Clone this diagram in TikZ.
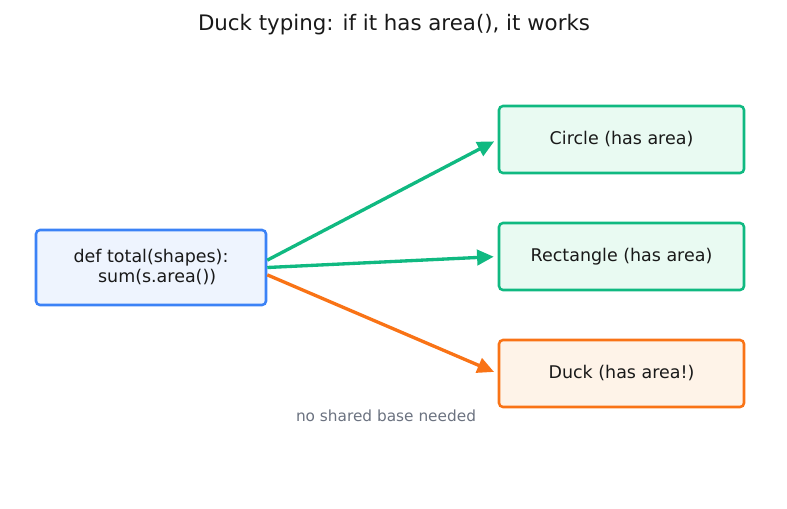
\documentclass[tikz,border=0pt]{standalone}
\usepackage{fontspec}
\setmainfont{DejaVu Sans}
\usetikzlibrary{arrows.meta}
\definecolor{fnblue}{HTML}{3B82F6}
\definecolor{fnfill}{HTML}{EEF4FE}
\definecolor{okgreen}{HTML}{10B981}
\definecolor{okfill}{HTML}{E9FAF2}
\definecolor{duckorange}{HTML}{F97316}
\definecolor{duckfill}{HTML}{FEF3E8}
\definecolor{notegray}{HTML}{6B7280}
\tikzset{
  box/.style={draw, line width=1.9pt, rounded corners=3pt, align=center,
    font=\fontsize{13.1pt}{15pt}\selectfont, text=black!90},
  link/.style={line width=2.5pt, -{Triangle[length=12.5pt,width=11.5pt]}, shorten >=3pt}
}
\begin{document}
\begin{tikzpicture}[x=0.75pt,y=-0.75pt]
\useasboundingbox (0,0) rectangle (787,508);
\node[font=\fontsize{16pt}{19pt}\selectfont, text=black!90] (title) at (394,25) {Duck typing: if it has area(), it works};
\node[box, draw=fnblue, fill=fnfill, minimum width=172.5pt, minimum height=56.25pt] (fn) at (151,267.5) {def total(shapes):\\\hspace*{0.7em}sum(s.area())};
\node[box, draw=okgreen, fill=okfill, minimum width=183.75pt, minimum height=50.25pt] (circle) at (621.5,139.5) {Circle (has area)};
\node[box, draw=okgreen, fill=okfill, minimum width=183.75pt, minimum height=50.25pt] (rect) at (621.5,256.5) {Rectangle (has area)};
\node[box, draw=duckorange, fill=duckfill, minimum width=183.75pt, minimum height=50.25pt] (duck) at (621.5,373.5) {Duck (has area!)};
\draw[link, okgreen] ([yshift=5.5pt]fn.east) -- (circle.west);
\draw[link, okgreen] (fn.east) -- (rect.west);
\draw[link, duckorange] ([yshift=-5.5pt]fn.east) -- (duck.west);
\node[font=\fontsize{11.5pt}{13pt}\selectfont, text=notegray] (note) at (386,416) {no shared base needed};
\end{tikzpicture}
\end{document}
